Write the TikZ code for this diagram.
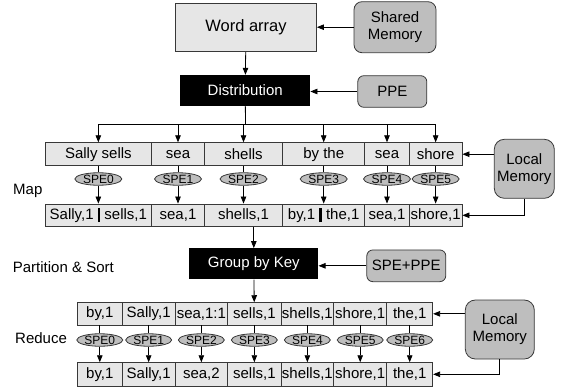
\documentclass[tikz,border=0pt]{standalone}
\usepackage{fontspec}
\setmainfont{Liberation Sans}
\usepackage{tikz}
\usetikzlibrary{arrows.meta,shapes.geometric}

\definecolor{cellgray}{HTML}{E6E6E6}
\definecolor{boxgray}{HTML}{BEBEBE}
\definecolor{edgegray}{HTML}{383838}
\newcommand{\sepbar}{\rule[-3pt]{2.5pt}{14pt}}
\newcommand{\txtfont}{\fontsize{15}{17}\selectfont}

\tikzset{
	arr/.style={-{Triangle[length=7pt,width=5.5pt]},line width=0.8pt},
	cell/.style={draw=edgegray,line width=0.8pt,fill=cellgray,inner sep=0pt,font=\txtfont},
	blackbox/.style={fill=black,text=white,inner sep=0pt,minimum height=31pt,font=\txtfont},
	membox/.style={draw=edgegray,line width=0.8pt,fill=boxgray,rounded corners=8pt,inner sep=0pt,align=center,font=\txtfont},
	spe/.style={ellipse,draw=edgegray,line width=0.8pt,fill=boxgray,minimum width=47pt,minimum height=12.5pt,inner sep=0pt,font=\fontsize{12}{12}\selectfont},
	lbl/.style={anchor=west,inner sep=0pt,font=\txtfont}
}

\begin{document}
\begin{tikzpicture}[x=1pt,y=-1pt]
	\useasboundingbox (0,0) rectangle (572,391);

	\node (wa) [cell,minimum width=141pt,minimum height=48.4pt,font=\fontsize{16.5}{20}\selectfont] at (246,27.5) {Word array};
	\node (shm) [membox,minimum width=82pt,minimum height=51pt] at (395,27.2) {Shared\\Memory};
	\node (dist) [blackbox,minimum width=130pt] at (245.2,90.5) {Distribution};
	\node (ppe) [membox,rounded corners=6pt,minimum width=69pt,minimum height=31.6pt] at (392.3,91.5) {PPE};

	\draw [arr] (shm.west) -- (wa.east |- shm.west);
	\draw [arr] (ppe.west) -- (dist.east |- ppe.west);
	\draw [arr] (wa) -- (dist);

	\foreach \l/\r/\a/\b [count=\i from 0] in {45/151.7/Sally sells/{Sally,1 \sepbar{} sells,1},151.7/204.3/sea/{sea,1},204.3/282.7/shells/{shells,1},282.7/364.7/by the/{by,1 \sepbar{} the,1},364.7/409.3/sea/{sea,1},409.3/462/shore/{shore,1}}{
		\pgfmathsetmacro\cw{\r-\l}
		\pgfmathsetmacro\cx{(\l+\r)/2}
		\node (mi\i) [cell,minimum width=\cw pt,minimum height=23pt] at (\cx,154.2) {\a};
		\node (mo\i) [cell,minimum width=\cw pt,minimum height=22.7pt] at (\cx,215.3) {\b};
	}

	\coordinate (bus) at (245.5,124.3);
	\draw [line width=0.8pt] (dist) -- (bus);
	\draw [line width=0.8pt] (mi0.north |- bus) -- (mi5.north |- bus);

	\foreach \i in {0,...,5}{
		\draw [arr] (mi\i.north |- bus) -- (mi\i.north);
		\node (ms\i) [spe] at (mi\i |- 0,179) {SPE\i};
		\draw [line width=0.8pt] (mi\i) -- (ms\i);
		\draw [arr] (ms\i) -- (mo\i);
	}

	\node (lm1) [membox,rounded corners=10pt,minimum width=60pt,minimum height=59pt] at (524.3,168.8) {Local\\Memory};
	\draw [arr] (lm1.west |- mi5) -- (mi5.east);
	\draw [arr] (lm1.south) |- (mo5.east);

	\node (gbk) [blackbox,minimum width=129pt] at (253.8,263.8) {Group by Key};
	\node (sp) [membox,rounded corners=6pt,minimum width=79pt,minimum height=31.7pt] at (406.3,265.8) {SPE+PPE};
	\draw [arr] (gbk.north |- mo2.south) -- (gbk.north);
	\draw [arr] (sp.west) -- (gbk.east |- sp.west);

	\foreach \l/\r/\a/\b [count=\i from 0] in {77.3/122.3/{by,1}/{by,1},122.3/175/{Sally,1}/{Sally,1},175/227.7/{sea,1:1}/{sea,2},227.7/281/{sells,1}/{sells,1},281/333.7/{shells,1}/{shells,1},333.7/386.7/{shore,1}/{shore,1},386.7/432.7/{the,1}/{the,1}}{
		\pgfmathsetmacro\cw{\r-\l}
		\pgfmathsetmacro\cx{(\l+\r)/2}
		\node (ri\i) [cell,minimum width=\cw pt,minimum height=22.3pt] at (\cx,313.8) {\a};
		\node (ro\i) [cell,minimum width=\cw pt,minimum height=23.3pt] at (\cx,374.3) {\b};
	}

	\draw [arr] (gbk) -- (ri3);

	\foreach \i in {0,...,6}{
		\node (rs\i) [spe,minimum width=46pt] at (ri\i |- 0,340) {SPE\i};
		\draw [line width=0.8pt] (ri\i) -- (rs\i);
		\draw [arr] (rs\i) -- (ro\i);
	}

	\node (lm2) [membox,rounded corners=10pt,minimum width=69pt,minimum height=59pt] at (499.8,329.5) {Local\\Memory};
	\draw [arr] (lm2.west |- ri6) -- (ri6.east);
	\draw [arr] (lm2.south) |- (ro6.east);

	\node (maplbl) [lbl] at (13,191) {Map};
	\node (partlbl) [lbl] at (12.7,267.3) {Partition \& Sort};
	\node (redlbl) [lbl] at (15,338.3) {Reduce};
\end{tikzpicture}
\end{document}
